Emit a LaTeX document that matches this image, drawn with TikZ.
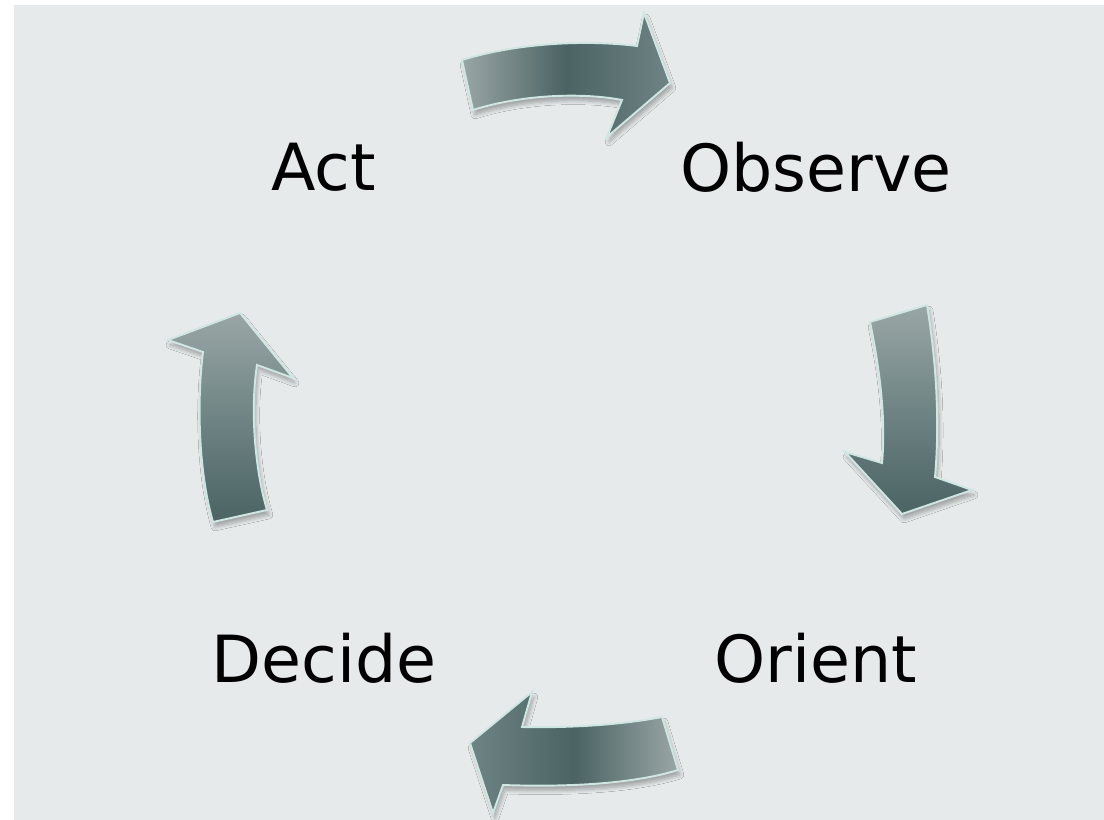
\documentclass[tikz,border=0pt]{standalone}
\usepackage{fontspec}
\setmainfont{DejaVu Sans}
\usetikzlibrary{shadows.blur}
\definecolor{bggray}{HTML}{E6EAEB}
\definecolor{arrlight}{HTML}{9AA6A6}
\definecolor{arrmid}{HTML}{6F8484}
\definecolor{arrdark}{HTML}{4B6363}
\definecolor{arredge}{HTML}{CFE6E3}
\tikzset{
  cyclearrow/.style={draw=arredge, line width=1.1pt, line join=miter,
    blur shadow={shadow xshift=0.04cm, shadow yshift=-0.1cm, shadow opacity=30, shadow blur steps=8}},
  label/.style={anchor=base, inner sep=0pt, font=\fontsize{37}{44}\selectfont, text=black}
}
\begin{document}
\begin{tikzpicture}[x=0.02cm, y=-0.02cm]
\useasboundingbox (0,0) rectangle (1104,820);
\fill[white] (0,0) rectangle (1104,820);
\fill[bggray] (14,5) rectangle (1104,820);

% top arrow (Act -> Observe)
\path[cyclearrow, left color=arrlight, right color=arrmid, middle color=arrdark]
  (462,60) .. controls (520,42) and (590,40) .. (637,46) -- (644,13) -- (670,83)
  -- (607,137) -- (622,100) .. controls (580,92) and (520,95) .. (473,110) -- cycle;

% right arrow (Observe -> Orient)
\path[cyclearrow, top color=arrlight, bottom color=arrdark, middle color=arrmid]
  (870,322) .. controls (880,370) and (886,420) .. (882,463) -- (845,452) -- (902,514)
  -- (972,490) -- (935,477) .. controls (940,420) and (936,360) .. (927,305) -- cycle;

% bottom arrow (Orient -> Decide)
\path[cyclearrow, left color=arrmid, right color=arrlight, middle color=arrdark]
  (662,717) .. controls (620,725) and (570,728) .. (522,727) -- (532,692) -- (470,743)
  -- (493,813) -- (503,785) .. controls (560,787) and (630,785) .. (678,770) -- cycle;

% left arrow (Decide -> Act)
\path[cyclearrow, top color=arrlight, bottom color=arrdark, middle color=arrmid]
  (213,522) .. controls (198,470) and (197,400) .. (203,352) -- (168,340) -- (240,313)
  -- (293,378) -- (257,365) .. controls (250,410) and (255,470) .. (267,510) -- cycle;

\node[label] (act) at (323.5,191) {Act};
\node[label] (observe) at (816,192) {Observe};
\node[label] (decide) at (324,682) {Decide};
\node[label] (orient) at (816,682) {Orient};
\end{tikzpicture}
\end{document}
